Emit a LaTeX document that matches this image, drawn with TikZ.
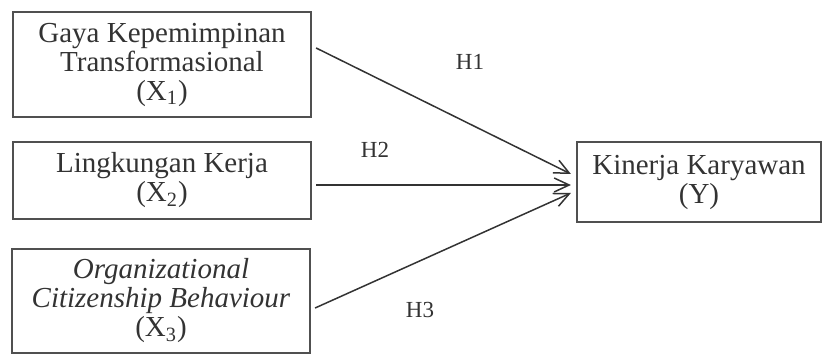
\documentclass[tikz,border=0pt]{standalone}
\usepackage{fontspec}
\setmainfont{Liberation Serif}
\usetikzlibrary{arrows.meta}
\usetikzlibrary{positioning}
\definecolor{boxgray}{HTML}{505050}
\definecolor{textgray}{HTML}{333333}

\begin{document}
\begin{tikzpicture}[x=0.5pt,y=-0.5pt,
  varbox/.style={draw=boxgray,line width=1.1pt,align=center,inner sep=0pt,
    minimum width=149pt,text=textgray,font=\fontsize{14.5}{14.5}\selectfont},
  hlabel/.style={text=textgray,font=\fontsize{11.5}{12}\selectfont},
  link/.style={draw=textgray,line width=0.75pt,-{Straight Barb[length=7.5pt,width=7pt]}}]

\useasboundingbox (0,0) rectangle (822,356);

% Independent variables
\node[varbox,minimum height=52.5pt] (x1) at (162,64.5)
  {Gaya Kepemimpinan\\Transformasional\\(X\textsubscript{1})};
\node[varbox,minimum height=38.5pt] (x2) at (162,180.5)
  {Lingkungan Kerja\\(X\textsubscript{2})};
\node[varbox,minimum height=52pt] (x3) at (161,301)
  {\textit{Organizational}\\\textit{Citizenship Behaviour}\\(X\textsubscript{3})};

% Dependent variable
\node[varbox,minimum width=122pt,minimum height=40pt] (y) at (699,182)
  {Kinerja Karyawan\\(Y)};

% Hypotheses
\draw[link] ([xshift=2pt,yshift=8.25pt]x1.east) -- ([xshift=-2.5pt,yshift=4pt]y.west);
\draw[link] ([xshift=2pt,yshift=-2.25pt]x2.east) -- ([xshift=-2.5pt,yshift=-1.5pt]y.west);
\draw[link] ([xshift=2pt,yshift=-3.5pt]x3.east) -- ([xshift=-2.5pt,yshift=-5.5pt]y.west);

\node[hlabel] (h1) at (470,62) {H1};
\node[hlabel] (h2) at (375,150) {H2};
\node[hlabel] (h3) at (420,310) {H3};

\end{tikzpicture}
\end{document}
